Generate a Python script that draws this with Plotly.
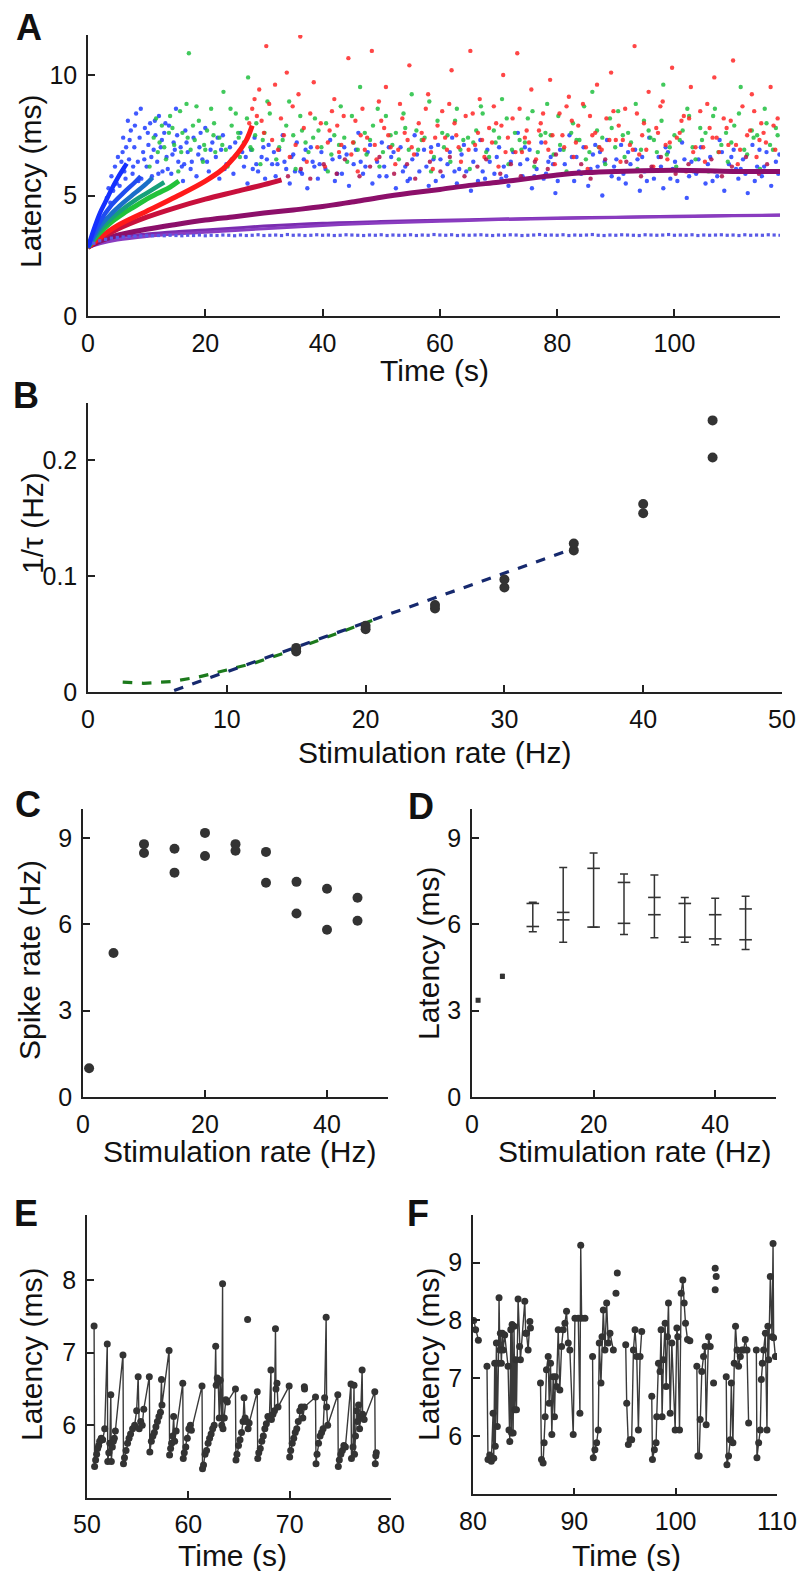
import plotly.graph_objects as go

W, H = 803, 1571
FONT = "Liberation Sans, Arial, Helvetica, sans-serif"
DARK = "#333333"
AXC = "#222222"

# ---------------- Panel A : latency vs time, several stimulation rates ----------------
A_T_45 = [0, 1, 2, 3, 4, 5, 6, 6.6]
A_L_45 = [2.85, 3.6, 4.25, 4.75, 5.25, 5.7, 6.1, 6.33]
A_T_40 = [0, 2, 4, 6, 8, 9]
A_L_40 = [2.85, 3.9, 4.6, 5.1, 5.55, 5.8]
A_T_35 = [0, 2, 4, 6, 8, 10, 11]
A_L_35 = [2.85, 3.7, 4.25, 4.7, 5.1, 5.5, 5.75]
A_T_30 = [0, 2, 4, 6, 8, 10, 12, 13]
A_L_30 = [2.85, 3.55, 4.05, 4.45, 4.8, 5.1, 5.4, 5.55]
A_T_25 = [0, 2, 4, 6, 8, 10, 12, 14, 15.5]
A_L_25 = [2.85, 3.45, 3.9, 4.25, 4.55, 4.85, 5.1, 5.35, 5.6]
A_T_20 = [0, 2, 5, 10, 15, 20, 23, 25, 27, 28]
A_L_20 = [2.85, 3.25, 3.75, 4.35, 4.95, 5.6, 6.1, 6.6, 7.3, 7.9]
A_T_15 = [0, 2, 5, 10, 15, 20, 25, 30, 33]
A_L_15 = [2.85, 3.2, 3.6, 4.1, 4.5, 4.85, 5.15, 5.45, 5.65]
A_T_10 = [0, 2, 5, 10, 15, 20, 25, 30, 35, 40, 45, 50, 55, 60, 65, 70, 75, 80, 85, 90, 100, 110, 118]
A_L_10 = [2.85, 3.1, 3.35, 3.6, 3.8, 3.98, 4.12, 4.27, 4.4, 4.54, 4.73, 4.93, 5.1, 5.25, 5.42,
          5.55, 5.7, 5.85, 5.95, 6.0, 6.05, 6.0, 6.0]
A_T_5 = [0, 2, 5, 10, 15, 20, 30, 40, 50, 60, 70, 80, 90, 100, 110, 118]
A_L_5a = [2.85, 3.05, 3.25, 3.4, 3.5, 3.57, 3.73, 3.85, 3.92, 3.97, 4.02, 4.07, 4.1, 4.14, 4.17, 4.19]
A_L_5b = [2.85, 3.0, 3.15, 3.3, 3.4, 3.47, 3.62, 3.76, 3.86, 3.93, 4.0, 4.05, 4.09, 4.12, 4.16, 4.18]

A_T_1 = [1, 2, 3, 4, 5, 6, 7, 8, 9, 10, 11, 12, 13, 14, 15, 16, 17, 18, 19, 20,
         21, 22, 23, 24, 25, 26, 27, 28, 29, 30, 31, 32, 33, 34, 35, 36, 37, 38, 39, 40,
         41, 42, 43, 44, 45, 46, 47, 48, 49, 50, 51, 52, 53, 54, 55, 56, 57, 58, 59, 60,
         61, 62, 63, 64, 65, 66, 67, 68, 69, 70, 71, 72, 73, 74, 75, 76, 77, 78, 79, 80,
         81, 82, 83, 84, 85, 86, 87, 88, 89, 90, 91, 92, 93, 94, 95, 96, 97, 98, 99, 100,
         101, 102, 103, 104, 105, 106, 107, 108, 109, 110, 111, 112, 113, 114, 115, 116, 117, 118]
A_L_1 = [3.02, 3.12, 3.18, 3.23, 3.26, 3.28, 3.30, 3.31, 3.32, 3.33, 3.33, 3.34, 3.33, 3.35, 3.34, 3.33, 3.35, 3.34, 3.36, 3.33,
         3.35, 3.34, 3.36, 3.35, 3.33, 3.36, 3.34, 3.35, 3.37, 3.34, 3.35, 3.36, 3.34, 3.38, 3.35, 3.36, 3.34, 3.35, 3.37, 3.35,
         3.36, 3.34, 3.35, 3.37, 3.36, 3.35, 3.34, 3.36, 3.35, 3.37, 3.34, 3.36, 3.35, 3.35, 3.37, 3.34, 3.36, 3.35, 3.38, 3.36,
         3.35, 3.37, 3.34, 3.36, 3.35, 3.36, 3.37, 3.35, 3.34, 3.36, 3.35, 3.37, 3.36, 3.34, 3.35, 3.36, 3.38, 3.35, 3.36, 3.35,
         3.37, 3.34, 3.36, 3.35, 3.36, 3.38, 3.35, 3.34, 3.36, 3.35, 3.37, 3.36, 3.35, 3.34, 3.37, 3.36, 3.35, 3.36, 3.38, 3.35,
         3.36, 3.35, 3.37, 3.34, 3.36, 3.35, 3.36, 3.37, 3.35, 3.36, 3.34, 3.37, 3.35, 3.36, 3.35, 3.37, 3.36, 3.35]

BLUE_CLOUD = [
    (3.2, 4.9), (3.5, 5.3), (3.8, 4.7), (4.0, 5.8), (4.3, 5.2), (4.6, 6.2), (4.9, 5.5), (5.1, 6.6), (5.4, 5.4), (5.7, 6.4),
    (6.0, 7.4), (6.2, 6.0), (6.5, 7.0), (6.8, 8.1), (7.0, 6.5), (7.3, 7.7), (7.6, 5.9), (7.9, 7.0), (8.2, 8.4), (8.5, 6.4),
    (8.8, 7.4), (9.1, 5.7), (9.4, 6.8), (9.7, 7.8), (10.0, 6.2), (10.3, 7.1), (10.6, 8.0), (10.9, 5.8), (11.2, 6.9), (11.5, 7.5),
    (11.8, 6.4), (12.1, 8.3), (12.4, 7.0), (12.7, 6.0), (13.0, 7.6),
    (13.4, 6.6), (13.8, 7.9), (14.2, 5.9), (14.6, 7.2), (15.0, 8.6), (15.4, 6.4), (15.8, 7.0), (16.2, 5.6), (16.6, 7.7), (17.0, 6.8),
    (17.5, 6.1), (18.0, 7.4), (18.5, 5.8), (19.0, 7.0), (19.5, 6.5), (20.0, 7.8), (20.6, 6.0), (21.2, 7.2), (21.8, 6.6), (22.4, 5.7),
    (23.0, 7.5), (23.6, 6.3), (24.2, 7.0), (24.8, 5.9), (25.4, 6.7), (26.0, 7.6), (26.6, 6.2), (27.2, 5.5), (27.8, 6.9), (28.4, 7.4),
    (29.0, 6.0), (29.6, 6.6), (30.2, 5.7), (30.8, 7.1), (31.4, 6.3), (32.0, 5.8), (32.6, 6.9), (33.2, 7.5), (33.8, 6.1), (34.4, 5.5),
    (35.0, 6.7), (35.6, 7.2), (36.2, 6.0), (36.8, 6.5), (37.4, 5.3), (38.0, 7.0), (38.6, 6.2), (39.2, 5.7), (39.8, 6.8),
    (40.5, 6.1), (41.3, 7.3), (42.1, 5.6), (42.9, 6.6), (43.7, 7.0), (44.5, 5.4), (45.3, 6.3), (46.1, 7.6), (46.9, 5.9), (47.7, 6.8),
    (48.5, 5.5), (49.3, 6.4), (50.1, 7.2), (50.9, 5.8), (51.7, 6.6), (52.5, 5.3), (53.3, 7.0), (54.1, 6.2), (54.9, 5.7), (55.7, 7.5),
    (56.5, 6.0), (57.3, 6.9), (58.1, 5.4), (58.9, 6.5), (59.7, 7.1), (60.5, 5.8), (61.3, 6.3), (62.1, 7.4), (62.9, 5.5), (63.7, 6.7),
    (64.5, 6.0), (65.3, 5.2), (66.1, 6.9), (66.9, 7.3), (67.7, 5.7), (68.5, 6.4), (69.3, 5.9), (70.1, 7.0), (70.9, 6.2), (71.7, 5.4),
    (72.5, 6.8), (73.3, 7.6), (74.1, 5.8), (74.9, 6.5), (75.7, 5.3), (76.5, 6.1), (77.3, 7.2), (78.1, 5.9), (78.9, 6.6), (79.7, 5.1),
    (80.5, 6.9), (81.3, 6.3), (82.1, 7.5), (82.9, 5.6), (83.7, 6.0), (84.5, 7.0), (85.3, 5.4), (86.1, 6.7), (86.9, 6.2), (87.7, 5.0),
    (88.5, 7.3), (89.3, 5.8), (90.1, 6.5), (90.9, 7.1), (91.7, 5.5), (92.5, 6.3), (93.3, 6.9), (94.1, 5.2), (94.9, 6.0), (95.7, 7.4),
    (96.5, 5.7), (97.3, 6.6), (98.1, 5.3), (98.9, 6.8), (99.7, 6.1), (100.5, 5.6), (101.3, 7.2), (102.1, 4.9), (102.9, 6.4), (103.7, 5.9),
    (104.5, 7.0), (105.3, 5.5), (106.1, 6.6), (106.9, 6.0), (107.7, 7.3), (108.5, 5.2), (109.3, 6.3), (110.1, 6.9), (110.9, 5.7), (111.7, 6.5),
    (112.5, 5.1), (113.3, 7.1), (114.1, 6.2), (114.9, 5.8), (115.7, 6.8), (116.5, 5.4), (117.3, 6.4),
    (41.7, 6.5), (43.3, 5.9), (45.7, 6.9), (47.3, 6.2), (49.7, 5.8), (51.3, 7.0), (53.7, 6.0), (55.3, 6.5), (57.7, 6.2), (59.3, 5.6),
    (61.7, 6.8), (63.3, 6.1), (65.7, 6.4), (67.3, 6.0), (69.7, 6.6), (71.3, 5.8), (73.7, 6.3), (75.3, 6.9), (77.7, 5.7), (79.3, 6.3),
    (81.7, 5.9), (83.3, 6.6), (85.7, 6.1), (87.3, 6.8), (89.7, 6.2), (91.3, 5.9), (93.7, 6.5), (95.3, 5.6), (97.7, 6.2), (99.3, 5.7),
    (101.7, 6.5), (103.3, 6.0), (105.7, 6.3), (107.3, 5.8), (109.7, 6.6), (111.3, 6.1), (113.7, 5.6), (115.3, 6.2), (117.7, 5.9),
    (14.8, 6.9), (16.4, 6.3), (18.8, 6.7), (20.3, 6.4), (22.7, 6.9), (24.5, 6.5), (26.3, 6.8), (28.7, 6.3), (30.5, 6.5), (32.3, 6.3),
    (34.7, 6.6), (36.5, 5.9), (38.3, 6.4),
    (5.9, 6.8), (6.4, 5.7), (7.1, 7.3), (7.7, 6.2), (8.0, 7.9), (8.6, 5.6), (9.0, 8.6), (9.6, 6.5), (10.2, 7.6), (10.8, 6.6),
    (11.4, 8.1), (12.0, 5.9), (12.6, 7.3), (13.2, 8.0), (13.6, 6.1), (14.4, 6.7), (15.2, 7.5), (16.0, 6.2), (16.8, 7.2), (17.7, 6.4),
    (19.2, 7.6), (20.9, 6.9), (22.1, 7.4), (23.3, 6.1), (25.1, 7.2), (26.9, 6.6), (28.1, 6.1), (29.9, 7.0), (31.7, 6.8), (33.5, 6.4),
    (35.3, 6.0), (37.1, 6.9), (39.5, 6.3),
    (42.5, 5.9), (44.1, 6.7), (46.5, 6.4), (48.1, 7.1), (50.5, 6.2), (52.1, 6.8), (54.5, 5.6), (56.1, 6.7), (58.5, 7.0), (60.1, 6.5),
    (62.5, 6.0), (64.1, 7.1), (66.5, 5.6), (68.1, 6.9), (70.5, 5.7), (72.1, 6.4), (74.5, 7.0), (76.1, 5.8), (78.5, 6.4), (80.1, 5.6),
    (82.5, 6.6), (84.1, 5.9), (86.5, 7.1), (88.1, 6.4), (90.5, 5.7), (92.1, 6.8), (94.5, 6.6), (96.1, 6.1), (98.5, 7.0), (100.1, 6.4),
    (102.5, 5.8), (104.1, 6.5), (106.5, 5.6), (108.1, 6.8), (110.5, 6.1), (112.1, 5.9), (114.5, 6.9), (116.1, 6.0), (117.9, 6.7),
]
GREEN_CLOUD = [
    (10.5, 6.2), (11.2, 7.4), (11.9, 6.8), (12.6, 7.9), (13.3, 6.5), (14.0, 8.3), (14.7, 7.1), (15.4, 6.0), (16.1, 7.6), (16.8, 8.8),
    (17.5, 6.9), (17.2, 10.9), (18.2, 7.3), (18.9, 8.1), (19.6, 6.4), (20.3, 7.7), (21.0, 8.6), (21.7, 6.8), (22.4, 7.4), (23.1, 9.3),
    (23.8, 6.2), (24.5, 7.9), (25.2, 8.4), (25.9, 6.6), (26.6, 7.2), (27.3, 9.9), (28.0, 6.9), (28.7, 8.0), (29.4, 6.3), (30.1, 7.6),
    (31.0, 8.4), (32.1, 6.5), (33.2, 7.3), (34.3, 8.9), (35.4, 6.1), (36.5, 7.7), (37.6, 6.8), (38.7, 8.2), (39.8, 7.0), (40.9, 6.0),
    (42.0, 7.5), (43.1, 8.7), (44.2, 6.4), (45.3, 7.2), (46.4, 9.5), (47.5, 6.7), (48.6, 7.9), (49.7, 6.2), (50.8, 8.3), (51.9, 7.1),
    (53.0, 6.5), (54.1, 7.8), (55.2, 9.2), (56.3, 6.9), (57.4, 7.4), (58.5, 6.0), (59.6, 8.1), (60.7, 7.0), (61.8, 6.4), (62.9, 8.6),
    (64.0, 7.3), (65.1, 6.1), (66.2, 7.7), (67.3, 8.4), (68.4, 6.6), (69.5, 7.2), (70.6, 9.0), (71.7, 6.3), (72.8, 7.6), (73.9, 6.9),
    (75.0, 8.2), (76.1, 6.2), (77.2, 7.5), (78.3, 8.8), (79.4, 6.7), (80.5, 7.1), (81.6, 6.0), (82.7, 8.0), (83.8, 7.3), (84.9, 6.5),
    (86.0, 9.3), (87.1, 7.0), (88.2, 6.3), (89.3, 7.8), (90.4, 8.5), (91.5, 6.6), (92.6, 7.2), (93.7, 6.1), (94.8, 8.1), (95.9, 7.4),
    (97.0, 6.8), (98.1, 9.6), (99.2, 7.0), (100.3, 6.2), (101.4, 7.7), (102.5, 8.3), (103.6, 6.5), (104.7, 7.3), (105.8, 6.0), (106.9, 8.6),
    (108.0, 7.1), (109.1, 6.4), (110.2, 7.9), (111.3, 9.5), (112.4, 6.7), (113.5, 7.4), (114.6, 6.1), (115.7, 8.0), (116.8, 6.9), (117.6, 7.5),
    (12.2, 7.2), (13.8, 7.6), (15.9, 6.8), (17.9, 7.9), (19.8, 7.1), (21.4, 7.5), (23.5, 6.9), (25.6, 7.6), (27.7, 7.0), (29.8, 7.3),
    (32.6, 7.0), (35.0, 7.5), (37.1, 7.2), (39.3, 7.7), (41.5, 6.7), (43.7, 7.4), (46.0, 6.9), (48.1, 7.3), (50.3, 6.8), (52.5, 7.6),
    (54.7, 6.9), (56.9, 7.3), (59.0, 6.6), (61.3, 7.5), (63.5, 6.9), (65.7, 7.2), (67.9, 6.8), (70.1, 7.4), (72.3, 6.9), (74.5, 7.2),
    (76.7, 6.8), (78.9, 7.5), (81.1, 6.9), (83.3, 7.3), (85.5, 6.8), (87.7, 7.4), (89.9, 7.0), (92.1, 7.6), (94.3, 6.9), (96.5, 7.3),
    (98.7, 6.7), (100.9, 7.3), (103.1, 7.0), (105.3, 7.6), (107.5, 6.8), (109.7, 7.2), (111.9, 6.9), (114.1, 7.5), (116.3, 7.1),
    (11.6, 8.2), (13.0, 7.0), (14.4, 7.8), (15.7, 8.5), (17.0, 7.4), (18.5, 8.7), (20.0, 6.9), (21.5, 8.0), (22.9, 7.1), (24.3, 8.6),
    (25.7, 7.4), (27.1, 8.2), (28.5, 7.5), (30.6, 8.9), (33.8, 7.9), (36.2, 8.3), (38.4, 7.4), (40.6, 8.0), (42.8, 7.1), (45.0, 8.3),
    (47.2, 7.6), (49.4, 8.6), (51.6, 7.5), (53.8, 8.4), (56.0, 7.7), (58.2, 8.9), (60.4, 7.6), (62.6, 8.1), (64.8, 7.4), (67.0, 8.7),
    (69.2, 7.7), (71.4, 8.2), (73.6, 7.3), (75.8, 8.5), (78.0, 7.6), (80.2, 8.3), (82.4, 7.6), (84.6, 8.7), (86.8, 7.7), (89.0, 8.2),
    (91.2, 7.5), (93.4, 8.8), (95.6, 7.7), (97.8, 8.1), (100.0, 7.5), (102.2, 8.6), (104.4, 7.8), (106.6, 8.3), (108.8, 7.6), (111.0, 8.4),
    (113.2, 7.7), (115.4, 8.6), (117.3, 7.8),
]
RED_CLOUD = [
    (27.5, 8.0), (28.0, 8.6), (28.4, 9.0), (28.8, 8.3), (29.2, 9.4), (29.6, 8.1), (30.0, 7.6), (30.4, 11.2), (30.9, 8.8), (31.4, 7.3),
    (31.9, 9.6), (32.4, 6.9), (32.9, 8.2), (33.4, 7.5), (33.9, 10.1), (34.4, 6.6), (34.9, 8.7), (35.4, 7.1), (35.9, 9.2), (36.2, 11.6),
    (36.8, 7.8), (37.3, 6.4), (37.9, 8.4), (38.5, 9.7), (39.1, 7.0), (39.7, 8.0),
    (40.4, 6.2), (41.2, 7.7), (42.0, 9.0), (42.8, 6.8), (43.6, 8.3), (44.4, 10.7), (45.2, 7.2), (46.0, 6.0), (46.8, 8.6), (47.6, 7.4),
    (48.4, 11.0), (49.2, 6.5), (50.0, 8.1), (50.8, 9.5), (51.6, 7.0), (52.4, 6.3), (53.2, 8.8), (54.0, 7.6), (54.8, 10.4), (55.6, 6.7),
    (56.4, 8.0), (57.2, 7.3), (58.0, 9.2), (58.8, 6.1), (59.6, 7.9), (60.4, 8.5), (61.2, 6.9), (62.0, 10.2), (62.8, 7.5), (63.6, 6.4),
    (64.4, 8.3), (65.2, 11.0), (66.0, 7.1), (66.8, 9.0), (67.6, 6.6), (68.4, 7.8), (69.2, 8.7), (70.0, 6.2), (70.8, 10.0), (71.6, 7.4),
    (72.4, 8.2), (73.2, 10.9), (74.0, 6.8), (74.8, 7.7), (75.6, 9.4), (76.4, 6.5), (77.2, 8.0), (78.0, 7.2), (78.8, 9.8), (79.6, 6.3),
    (80.4, 8.4), (81.2, 7.0), (82.0, 9.1), (82.8, 6.6), (83.6, 7.9), (84.4, 8.8), (85.2, 6.1), (86.0, 7.5), (86.8, 9.6), (87.6, 6.9),
    (88.4, 8.2), (89.2, 10.1), (90.0, 7.3), (90.8, 6.4), (91.6, 8.6), (92.4, 7.1), (93.2, 11.2), (94.0, 6.7), (94.8, 8.0), (95.6, 9.3),
    (96.4, 6.2), (97.2, 7.6), (98.0, 8.9), (98.8, 6.5), (99.6, 10.3), (100.4, 7.4), (101.2, 8.1), (102.0, 6.0), (102.8, 9.5), (103.6, 7.0),
    (104.4, 8.5), (105.2, 6.4), (106.0, 7.8), (106.8, 9.9), (107.6, 6.8), (108.4, 8.2), (109.2, 7.1), (110.0, 10.6), (110.8, 6.3), (111.6, 8.7),
    (112.4, 7.5), (113.2, 9.2), (114.0, 6.6), (114.8, 8.0), (115.6, 7.2), (116.4, 9.5), (117.2, 6.9),
    (40.9, 7.2), (42.5, 7.9), (44.9, 6.7), (46.5, 7.5), (48.9, 7.1), (50.5, 7.8), (52.9, 6.9), (54.5, 7.3), (56.9, 7.6), (58.5, 6.8),
    (60.9, 7.4), (62.5, 8.0), (64.9, 6.9), (66.5, 7.6), (68.9, 7.2), (70.5, 7.9), (72.9, 6.8), (74.5, 7.4), (76.9, 7.7), (78.5, 6.9),
    (80.9, 7.5), (82.5, 8.1), (84.9, 7.0), (86.5, 7.6), (88.9, 7.3), (90.5, 7.9), (92.9, 6.9), (94.5, 7.5), (96.9, 7.8), (98.5, 7.1),
    (100.9, 7.6), (102.5, 8.2), (104.9, 7.0), (106.5, 7.4), (108.9, 7.8), (110.5, 7.1), (112.9, 7.7), (114.5, 7.3), (116.9, 7.9),
    (41.6, 8.5), (43.2, 7.1), (45.6, 8.1), (47.2, 6.9), (49.6, 8.9), (51.2, 7.5), (53.6, 8.2), (55.2, 7.0), (57.6, 8.6), (59.2, 7.4),
    (61.6, 8.8), (63.2, 7.0), (65.6, 8.4), (67.2, 7.3), (69.6, 8.0), (71.2, 6.8), (73.6, 8.6), (75.2, 7.2), (77.6, 8.4), (79.2, 7.5),
    (81.6, 8.7), (83.2, 7.2), (85.6, 8.3), (87.2, 7.0), (89.6, 8.5), (91.2, 7.3), (93.6, 8.4), (95.2, 6.9), (97.6, 8.7), (99.2, 7.2),
    (101.6, 8.3), (103.2, 6.8), (105.6, 8.8), (107.2, 7.4), (109.6, 8.1), (111.2, 6.9), (113.6, 8.5), (115.2, 7.6), (117.6, 8.2),
]
CRIMSON_CLOUD = [
    (34.1, 5.8), (36.3, 6.1), (37.9, 5.7), (40.2, 6.3), (42.4, 5.9), (43.8, 6.5), (46.3, 5.8), (48.1, 6.2), (49.7, 6.6), (52.2, 5.9),
    (54.4, 6.3), (55.8, 5.7), (58.3, 6.4), (60.1, 6.0), (61.7, 6.6), (64.2, 5.8), (66.4, 6.2), (67.9, 6.5), (70.3, 5.9), (72.1, 6.3),
    (73.8, 5.8), (76.2, 6.4), (78.4, 6.1), (79.8, 6.7), (82.3, 5.9), (84.1, 6.3), (85.7, 5.7), (88.2, 6.5), (90.4, 6.0), (91.8, 6.4),
    (94.3, 5.8), (96.1, 6.2), (97.7, 6.6), (100.2, 5.9), (102.4, 6.3), (103.9, 6.0), (106.3, 6.5), (108.1, 5.8), (109.8, 6.2), (112.2, 6.6),
    (114.4, 5.9), (115.8, 6.3), (117.6, 6.0),
]

# ---------------- Panel B : 1/tau vs stimulation rate ----------------
B_RATE = [15, 15, 20, 20, 25, 25, 30, 30, 35, 35, 40, 40, 45, 45]
B_INV_TAU = [0.035, 0.038, 0.054, 0.057, 0.072, 0.075, 0.090, 0.097, 0.122, 0.128, 0.154, 0.162, 0.202, 0.234]
B_LIN_X = [3.6, 35.1]
B_LIN_Y = [-0.0097, 0.124]
B_CURVE_X = [2.5, 4, 6, 8, 10, 12, 14, 16, 18, 20, 21]
B_CURVE_Y = [0.0085, 0.0075, 0.009, 0.013, 0.019, 0.025, 0.033, 0.042, 0.051, 0.060, 0.064]

# ---------------- Panel C : spike rate vs stimulation rate ----------------
C_RATE = [1, 5, 10, 10, 15, 15, 20, 20, 25, 25, 30, 30, 35, 35, 40, 40, 45, 45]
C_SPIKE = [1.0, 5.0, 8.78, 8.47, 8.62, 7.79, 9.17, 8.37, 8.78, 8.55, 8.51, 7.44, 7.47, 6.37, 7.23, 5.81, 6.92, 6.12]

# ---------------- Panel D : latency ranges vs stimulation rate ----------------
D_RATE = [1, 5, 10, 15, 20, 25, 30, 35, 40, 45]
D_HIGH = [3.40, 4.25, 6.76, 7.97, 8.47, 7.74, 7.71, 6.93, 6.90, 6.97]
D_LOW = [3.32, 4.12, 5.74, 5.37, 5.89, 5.64, 5.53, 5.37, 5.29, 5.12]
D_MID1 = [3.36, 4.19, 6.72, 6.41, 7.94, 7.45, 6.93, 6.72, 6.33, 6.53]
D_MID2 = [3.36, 4.19, 5.92, 6.15, 5.90, 6.03, 6.33, 5.55, 5.49, 5.46]

# ---------------- Panel E : latency time course 50-80 s ----------------
E_POINTS = [
    (50.70, 7.37), (50.75, 5.43), (50.85, 5.52), (50.95, 5.60), (51.05, 5.68), (51.15, 5.72), (51.25, 5.78), (51.40, 5.82),
    (51.55, 5.80), (51.75, 5.95),
    (52.00, 7.12), (52.05, 5.50), (52.15, 5.62), (52.25, 5.75), (52.35, 6.42), (52.40, 5.50), (52.50, 5.70), (52.60, 5.78),
    (52.70, 5.82), (52.80, 5.92),
    (53.55, 6.97), (53.60, 5.47), (53.70, 5.55), (53.85, 5.65), (54.00, 5.75), (54.15, 5.82), (54.30, 5.88), (54.50, 5.95),
    (54.70, 6.00), (54.90, 6.20), (55.05, 6.67), (55.15, 5.95), (55.30, 6.05), (55.45, 6.00), (55.60, 6.22),
    (56.15, 6.67), (56.20, 5.63), (56.35, 5.78), (56.50, 5.85), (56.65, 5.90), (56.80, 5.98), (56.95, 6.05), (57.10, 6.12),
    (57.25, 6.18), (57.35, 6.63), (57.40, 6.28),
    (58.10, 7.03), (58.15, 5.59), (58.25, 5.68), (58.35, 5.75), (58.45, 5.85), (58.55, 6.12), (58.65, 5.78), (58.80, 5.92),
    (59.45, 6.58), (59.50, 5.54), (59.60, 5.62), (59.75, 5.70), (59.90, 5.82), (60.05, 5.95), (60.20, 6.00), (60.30, 5.93),
    (61.35, 6.54), (61.40, 5.40), (61.50, 5.45), (61.65, 5.60), (61.80, 5.65), (61.95, 5.75), (62.10, 5.82), (62.25, 5.88),
    (62.40, 5.95), (62.55, 6.00), (62.70, 7.09), (62.75, 6.55), (62.85, 6.65), (62.95, 6.60), (63.05, 6.10), (63.15, 6.62),
    (63.30, 6.00), (63.38, 7.95), (63.42, 5.95), (63.55, 6.10), (63.70, 6.35), (63.85, 6.32),
    (64.65, 6.50), (64.70, 5.52), (64.80, 5.60), (64.95, 5.72), (65.10, 5.80), (65.25, 5.90), (65.40, 6.05), (65.50, 6.38),
    (65.60, 6.10), (65.75, 6.05), (65.90, 5.95), (66.00, 6.03),
    (66.80, 6.46), (66.85, 5.54), (66.95, 5.62), (67.10, 5.68), (67.25, 5.78), (67.40, 5.85), (67.55, 5.95), (67.70, 6.02),
    (67.85, 6.12), (68.00, 6.10), (68.15, 6.76), (68.20, 6.08), (68.35, 6.15), (68.50, 6.20), (68.60, 7.33), (68.65, 6.50),
    (68.75, 6.58), (68.85, 6.25),
    (69.95, 6.54), (70.00, 5.56), (70.10, 5.65), (70.25, 5.75), (70.40, 5.82), (70.55, 5.90), (70.70, 5.95), (70.85, 6.05),
    (71.00, 6.20), (71.15, 6.25), (71.30, 6.10), (71.45, 6.25),
    (72.55, 6.39), (72.60, 5.47), (72.70, 5.60), (72.85, 5.75), (73.00, 5.85), (73.15, 5.90), (73.30, 5.95), (73.45, 6.38),
    (73.60, 7.49), (73.65, 6.25), (73.75, 6.00),
    (74.75, 6.42), (74.80, 5.43), (74.90, 5.52), (75.05, 5.60), (75.20, 5.65), (75.35, 5.72), (75.50, 5.70),
    (76.05, 6.57), (76.10, 5.54), (76.25, 5.70), (76.35, 6.55), (76.40, 5.60), (76.50, 5.85), (76.60, 6.20), (76.70, 6.05),
    (76.80, 6.28), (76.90, 5.95), (77.00, 6.12), (77.15, 6.76), (77.20, 6.15), (77.35, 6.08),
    (78.40, 6.46), (78.45, 5.47), (78.50, 5.58), (78.55, 5.62),
]
E_ISOLATED = [(65.85, 7.46), (71.45, 6.53), (71.47, 6.50)]

# ---------------- Panel F : latency time course 80-110 s ----------------
F_SEGMENTS = [
    [(80.07, 8.00), (80.26, 7.84), (80.53, 7.66)],
    [(81.38, 7.21), (81.48, 5.60), (81.65, 5.68), (81.81, 5.57), (81.98, 6.40), (82.05, 5.62), (82.14, 7.26), (82.20, 5.83),
     (82.31, 7.61), (82.40, 6.17), (82.51, 7.26), (82.57, 8.39), (82.65, 7.49), (82.70, 7.78), (82.80, 7.26), (82.90, 7.78),
     (82.97, 7.49), (83.13, 7.75), (83.46, 7.21), (83.55, 6.11), (83.63, 5.91), (83.73, 7.84), (83.80, 6.06), (83.86, 7.93),
     (83.96, 6.06), (84.05, 7.90), (84.12, 6.46), (84.22, 7.32), (84.29, 6.46), (84.45, 8.37), (84.60, 7.55), (84.68, 7.32),
     (85.11, 8.33), (85.20, 7.78), (85.28, 7.78), (85.44, 7.49), (85.61, 7.98), (85.67, 7.87)],
    [(86.66, 6.92), (86.76, 5.60), (86.92, 5.54), (87.02, 5.89), (87.12, 6.34), (87.25, 7.15), (87.42, 7.38), (87.52, 6.57),
     (87.65, 7.26), (87.78, 6.03), (87.91, 7.03), (88.04, 6.34), (88.14, 7.03), (88.24, 6.86), (88.41, 7.84), (88.57, 6.80),
     (88.74, 7.55), (88.90, 7.84), (89.07, 7.95), (89.23, 8.16), (89.40, 7.61), (89.56, 7.49), (89.89, 6.03), (90.06, 8.04),
     (90.39, 8.04), (90.55, 6.40), (90.63, 9.30), (90.72, 8.04), (91.05, 8.04)],
    [(91.80, 7.38), (91.87, 5.63), (92.03, 5.77), (92.20, 5.89), (92.36, 6.11), (92.46, 7.61), (92.63, 6.92), (92.73, 7.72),
     (92.86, 8.18), (93.02, 7.49), (93.19, 8.30), (93.35, 7.61), (93.52, 7.78), (93.85, 7.49)],
    [(95.07, 7.58), (95.17, 6.57), (95.33, 5.86), (95.50, 5.94), (95.66, 5.94), (95.83, 7.49), (95.99, 7.84), (96.16, 7.38),
     (96.32, 6.11), (96.49, 7.38), (96.65, 7.81)],
    [(97.64, 6.69), (97.71, 5.60), (97.90, 5.77), (98.07, 5.89), (98.13, 6.34), (98.30, 7.26), (98.46, 7.12), (98.56, 7.84),
     (98.66, 6.34), (98.79, 7.32), (98.96, 7.95), (99.06, 6.86), (99.19, 7.72), (99.29, 8.30), (99.46, 6.40), (99.62, 7.61),
     (99.95, 6.11), (100.12, 7.87), (100.21, 7.72), (100.38, 6.11), (100.54, 8.47), (100.71, 8.70), (100.84, 8.30),
     (100.97, 7.95), (101.17, 7.67)],
    [(102.09, 7.21), (102.19, 5.66), (102.32, 5.66), (102.42, 6.29), (102.58, 7.12), (102.75, 7.38), (102.91, 7.55),
     (103.01, 6.20), (103.24, 7.72), (103.41, 7.55)],
    [(104.99, 7.03), (105.06, 5.51), (105.22, 5.66), (105.39, 5.94), (105.49, 6.92), (105.65, 5.89), (105.78, 7.26),
     (105.91, 7.90), (106.05, 7.49), (106.21, 7.21), (106.38, 7.38), (106.54, 7.49), (106.71, 7.49), (106.87, 7.67),
     (107.04, 7.49), (107.20, 6.23)],
    [(107.96, 7.49), (108.02, 5.63), (108.19, 5.89), (108.35, 6.11), (108.45, 6.98), (108.55, 7.26), (108.68, 7.49),
     (108.85, 7.78), (109.01, 6.11), (109.10, 7.90), (109.18, 7.32), (109.34, 8.76), (109.51, 7.72), (109.61, 9.33),
     (109.67, 7.70), (109.84, 7.38), (110.00, 7.38)],
]
F_ISOLATED = [(94.11, 8.47), (94.24, 8.82), (103.74, 6.92), (103.90, 8.90), (104.00, 8.76), (103.90, 8.53), (101.40, 7.65)]


def px_x(p):
    return p / W


def px_y(p):
    return 1 - p / H


fig = go.Figure()


def cloud(points, color, size=4.4):
    fig.add_trace(go.Scatter(x=[p[0] for p in points], y=[p[1] for p in points], mode="markers",
                             marker=dict(size=size, color=color, opacity=0.85, line=dict(width=0)),
                             xaxis="x", yaxis="y", showlegend=False, hoverinfo="skip"))


def rise(t, lat, color, width=4.5):
    fig.add_trace(go.Scatter(x=t, y=lat, mode="lines", line=dict(color=color, width=width, shape="spline"),
                             xaxis="x", yaxis="y", showlegend=False, hoverinfo="skip"))


cloud(BLUE_CLOUD, "#1f3cff")
cloud(GREEN_CLOUD, "#20c040")
cloud(RED_CLOUD, "#ff2626")
cloud(CRIMSON_CLOUD, "#b0104a")

rise(A_T_5, A_L_5a, "#7a2cb0", 3)
rise(A_T_5, A_L_5b, "#8a3cc0", 3)
rise(A_T_10, A_L_10, "#8c0f6a", 5)
rise(A_T_15, A_L_15, "#c8103c", 5)
rise(A_T_20, A_L_20, "#ff1a1a", 5)
rise(A_T_25, A_L_25, "#22c23a", 5)
rise(A_T_30, A_L_30, "#17a07a", 4.5)
rise(A_T_35, A_L_35, "#1a6fc8", 4.5)
rise(A_T_40, A_L_40, "#1f4cf0", 4.5)
rise(A_T_45, A_L_45, "#1530ff", 4.5)
fig.add_trace(go.Scatter(x=A_T_1, y=A_L_1, mode="markers",
                         marker=dict(size=3.2, color="#5a5ae6", symbol="square", line=dict(width=0)),
                         xaxis="x", yaxis="y", showlegend=False, hoverinfo="skip"))

# ---- Panel B ----
fig.add_trace(go.Scatter(x=B_CURVE_X, y=B_CURVE_Y, mode="lines",
                         line=dict(color="#1c7a1c", width=3.2, dash="dash"),
                         xaxis="x2", yaxis="y2", showlegend=False))
fig.add_trace(go.Scatter(x=B_LIN_X, y=B_LIN_Y, mode="lines",
                         line=dict(color="#16296e", width=3.2, dash="dash"),
                         xaxis="x2", yaxis="y2", showlegend=False, cliponaxis=False))
fig.add_trace(go.Scatter(x=B_RATE, y=B_INV_TAU, mode="markers",
                         marker=dict(size=10, color=DARK),
                         xaxis="x2", yaxis="y2", showlegend=False))

# ---- Panel C ----
fig.add_trace(go.Scatter(x=C_RATE, y=C_SPIKE, mode="markers",
                         marker=dict(size=10, color=DARK),
                         xaxis="x3", yaxis="y3", showlegend=False))

# ---- Panel D ----
fig.add_trace(go.Scatter(
    x=D_RATE[2:], y=D_MID2[2:], mode="markers",
    marker=dict(size=1, color="rgba(0,0,0,0)"),
    error_y=dict(type="data", symmetric=False,
                 array=[h - m for h, m in zip(D_HIGH[2:], D_MID2[2:])],
                 arrayminus=[m - l for m, l in zip(D_MID2[2:], D_LOW[2:])],
                 color=DARK, thickness=1.5, width=4),
    xaxis="x4", yaxis="y4", showlegend=False))
fig.add_trace(go.Scatter(x=D_RATE[2:] + D_RATE[2:], y=D_MID1[2:] + D_MID2[2:], mode="markers",
                         marker=dict(symbol="line-ew", size=9, line=dict(width=1.6, color=DARK)),
                         xaxis="x4", yaxis="y4", showlegend=False))
fig.add_trace(go.Scatter(
    x=D_RATE[:2], y=D_MID1[:2], mode="markers",
    marker=dict(symbol="square", size=5, color=DARK),
    error_y=dict(type="data", symmetric=False,
                 array=[h - m for h, m in zip(D_HIGH[:2], D_MID1[:2])],
                 arrayminus=[m - l for m, l in zip(D_MID1[:2], D_LOW[:2])],
                 color=DARK, thickness=1.5, width=2),
    xaxis="x4", yaxis="y4", showlegend=False))

# ---- Panel E ----
fig.add_trace(go.Scatter(x=[p[0] for p in E_POINTS], y=[p[1] for p in E_POINTS], mode="lines+markers",
                         line=dict(color="#3a3a3a", width=1.4),
                         marker=dict(size=7, color=DARK),
                         xaxis="x5", yaxis="y5", showlegend=False))
fig.add_trace(go.Scatter(x=[p[0] for p in E_ISOLATED], y=[p[1] for p in E_ISOLATED], mode="markers",
                         marker=dict(size=7, color=DARK),
                         xaxis="x5", yaxis="y5", showlegend=False))

# ---- Panel F ----
fx, fy = [], []
for seg in F_SEGMENTS:
    fx += [p[0] for p in seg] + [None]
    fy += [p[1] for p in seg] + [None]
fig.add_trace(go.Scatter(x=fx, y=fy, mode="lines+markers", connectgaps=False,
                         line=dict(color="#3a3a3a", width=1.4),
                         marker=dict(size=7, color=DARK),
                         xaxis="x6", yaxis="y6", showlegend=False))
fig.add_trace(go.Scatter(x=[p[0] for p in F_ISOLATED], y=[p[1] for p in F_ISOLATED], mode="markers",
                         marker=dict(size=7, color=DARK),
                         xaxis="x6", yaxis="y6", showlegend=False))


def axis(domain, rng, tickvals, anchor, ticktext=None):
    d = dict(domain=domain, range=rng, tickvals=tickvals, anchor=anchor,
             showline=True, linecolor=AXC, linewidth=1.5,
             ticks="inside", ticklen=7, tickwidth=1.5, tickcolor=AXC,
             showgrid=False, zeroline=False, fixedrange=True, automargin=False,
             tickfont=dict(size=25, color="#111111", family=FONT), ticklabelstandoff=4)
    if ticktext is not None:
        d["ticktext"] = ticktext
    return d


# pixel boxes (left, right, top, bottom)
BOX = {
    "A": (88, 780, 35, 316),
    "B": (88, 782, 403, 692),
    "C": (83, 388, 809, 1097),
    "D": (472, 776, 809, 1097),
    "E": (87, 391, 1215, 1497.7),
    "F": (473, 777, 1215, 1494.3),
}


def dom(key):
    l, r, t, b = BOX[key]
    return [px_x(l), px_x(r)], [px_y(b), px_y(t)]


xa, ya = dom("A")
xb, yb = dom("B")
xc, yc = dom("C")
xd, yd = dom("D")
xe, ye = dom("E")
xf, yf = dom("F")

layout = dict(
    template="none",
    width=W, height=H, margin=dict(l=0, r=0, t=0, b=0, autoexpand=False),
    paper_bgcolor="white", plot_bgcolor="white",
    font=dict(family=FONT, color="#111111"),
    showlegend=False,
    xaxis=axis(xa, [0, 118], [0, 20, 40, 60, 80, 100], "y"),
    yaxis=axis(ya, [0, 11.66], [0, 5, 10], "x"),
    xaxis2=axis(xb, [0, 50], [0, 10, 20, 30, 40, 50], "y2"),
    yaxis2=axis(yb, [0, 0.249], [0, 0.1, 0.2], "x2", ["0", "0.1", "0.2"]),
    xaxis3=axis(xc, [0, 50], [0, 20, 40], "y3"),
    yaxis3=axis(yc, [0, 10], [0, 3, 6, 9], "x3"),
    xaxis4=axis(xd, [0, 50], [0, 20, 40], "y4"),
    yaxis4=axis(yd, [0, 10], [0, 3, 6, 9], "x4"),
    xaxis5=axis(xe, [50, 80], [50, 60, 70, 80], "y5"),
    yaxis5=axis(ye, [5, 8.9], [6, 7, 8], "x5"),
    xaxis6=axis(xf, [80, 110], [80, 90, 100, 110], "y6"),
    yaxis6=axis(yf, [5, 9.82], [6, 7, 8, 9], "x6"),
)

ann = []


def text(x, y, s, size=30, angle=0, bold=False):
    ann.append(dict(x=px_x(x), y=px_y(y), xref="paper", yref="paper", text=("<b>%s</b>" % s) if bold else s,
                    showarrow=False, xanchor="center", yanchor="middle", textangle=angle,
                    font=dict(size=size, family=FONT, color="#111111")))


# panel letters
text(29, 27, "A", 36, bold=True)
text(26, 396, "B", 36, bold=True)
text(28, 804, "C", 36, bold=True)
text(421, 806, "D", 36, bold=True)
text(26, 1213, "E", 36, bold=True)
text(418, 1213, "F", 36, bold=True)

# axis titles
text(434, 370, "Time (s)")
text(31, 182, "Latency (ms)", angle=-90)
text(435, 752, "Stimulation rate (Hz)")
text(32, 523, "1/τ (Hz)", angle=-90)
text(240, 1151, "Stimulation rate (Hz)")
text(29, 960, "Spike rate (Hz)", angle=-90)
text(634, 1151, "Stimulation rate (Hz)")
text(428, 954, "Latency (ms)", angle=-90)
text(232, 1555, "Time (s)")
text(31, 1355, "Latency (ms)", angle=-90)
text(626, 1555, "Time (s)")
text(428, 1355, "Latency (ms)", angle=-90)

layout["annotations"] = ann
fig.update_layout(**layout)

fig.write_html("out.html")
